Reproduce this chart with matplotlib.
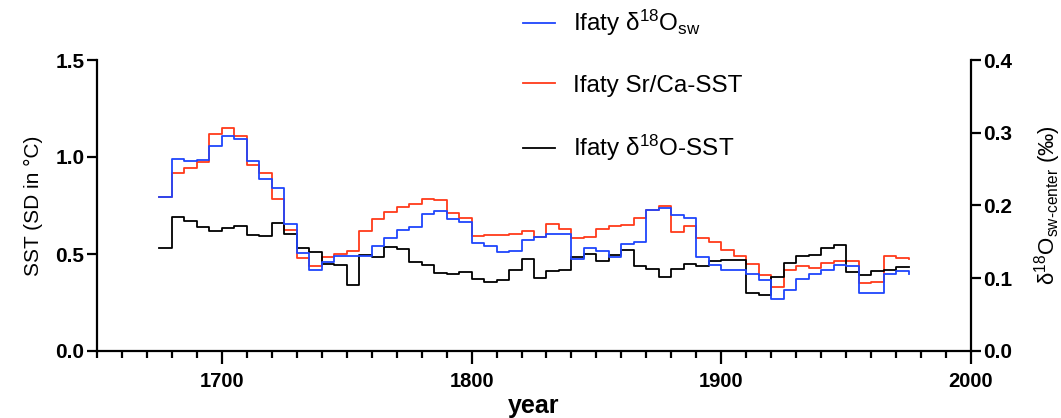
import matplotlib
matplotlib.use("Agg")
import matplotlib.pyplot as plt
from matplotlib.ticker import MultipleLocator

plt.rcParams['font.family'] = ['Liberation Sans', 'DejaVu Sans']
plt.rcParams['mathtext.fontset'] = 'custom'
plt.rcParams['mathtext.rm'] = 'Liberation Sans'
plt.rcParams['mathtext.it'] = 'Liberation Sans:italic'
plt.rcParams['mathtext.bf'] = 'Liberation Sans:bold'

# start year of each 5-yr window (last entry = end of record)
years = list(range(1675, 1976, 5))

# Ifaty Sr/Ca-SST, SD in degC (left axis)
srca_sst = [0.795, 0.915, 0.944, 0.973, 1.116, 1.152, 1.108, 0.961, 0.915, 0.783,
            0.626, 0.480, 0.439, 0.485, 0.499, 0.514, 0.619, 0.678, 0.717, 0.740,
            0.760, 0.786, 0.777, 0.709, 0.686, 0.592, 0.600, 0.597, 0.605, 0.619,
            0.588, 0.654, 0.631, 0.580, 0.588, 0.630, 0.643, 0.648, 0.683, 0.729,
            0.748, 0.614, 0.645, 0.583, 0.562, 0.519, 0.488, 0.448, 0.390, 0.330,
            0.420, 0.439, 0.430, 0.454, 0.464, 0.463, 0.351, 0.356, 0.490, 0.480,
            0.473]

# Ifaty d18O-SST, SD in degC (left axis)
d18o_sst = [0.531, 0.691, 0.671, 0.640, 0.619, 0.635, 0.645, 0.597, 0.595, 0.660,
            0.605, 0.533, 0.511, 0.447, 0.442, 0.342, 0.494, 0.485, 0.537, 0.528,
            0.459, 0.442, 0.402, 0.396, 0.408, 0.373, 0.356, 0.365, 0.416, 0.476,
            0.377, 0.414, 0.416, 0.485, 0.502, 0.463, 0.494, 0.519, 0.437, 0.425,
            0.382, 0.425, 0.447, 0.437, 0.464, 0.468, 0.468, 0.299, 0.290, 0.382,
            0.454, 0.490, 0.497, 0.531, 0.545, 0.408, 0.390, 0.411, 0.416, 0.433,
            0.433]

# Ifaty d18Osw, permil (right axis)
d18o_sw = [0.212, 0.264, 0.261, 0.262, 0.282, 0.295, 0.291, 0.261, 0.237, 0.224,
           0.174, 0.135, 0.112, 0.122, 0.131, 0.130, 0.130, 0.144, 0.155, 0.167,
           0.171, 0.189, 0.192, 0.181, 0.178, 0.148, 0.145, 0.136, 0.138, 0.153,
           0.157, 0.161, 0.161, 0.127, 0.141, 0.138, 0.129, 0.147, 0.150, 0.194,
           0.196, 0.187, 0.183, 0.129, 0.118, 0.112, 0.112, 0.106, 0.097, 0.071,
           0.084, 0.099, 0.106, 0.111, 0.118, 0.117, 0.080, 0.080, 0.106, 0.110,
           0.106]

blue = '#1f45fc'
red = '#ff3a1a'

fig = plt.figure(figsize=(10.61, 4.18), dpi=100)
ax = fig.add_axes([97/1061, 1 - 351/418, (971 - 97)/1061, (351 - 60)/418])
ax2 = ax.twinx()

l2, = ax.step(years, srca_sst, where='post', color=red, lw=1.3, label='Ifaty Sr/Ca-SST')
l3, = ax.step(years, d18o_sst, where='post', color='black', lw=1.3, label='Ifaty δ$^{18}$O-SST')
l1, = ax2.step(years, d18o_sw, where='post', color=blue, lw=1.3, label='Ifaty δ$^{18}$O$_{\\mathregular{sw}}$')

ax.set_xlim(1650, 2000)
ax.set_ylim(0, 1.5)
ax2.set_ylim(0, 0.4)
ax.xaxis.set_major_locator(MultipleLocator(100))
ax.xaxis.set_minor_locator(MultipleLocator(10))
ax.yaxis.set_major_locator(MultipleLocator(0.5))
ax2.yaxis.set_major_locator(MultipleLocator(0.1))
ax.yaxis.set_major_formatter(plt.FormatStrFormatter('%.1f'))
ax2.yaxis.set_major_formatter(plt.FormatStrFormatter('%.1f'))

for a in (ax, ax2):
    a.spines['top'].set_visible(False)
    for s in a.spines.values():
        s.set_linewidth(1.6)
ax.spines['right'].set_visible(False)
ax2.spines['left'].set_visible(False)
ax2.spines['bottom'].set_visible(False)

ax.tick_params(axis='x', which='major', length=9, width=1.6, direction='out', labelsize=14.5, pad=6)
ax.tick_params(axis='x', which='minor', length=5, width=1.6, direction='out')
ax.tick_params(axis='y', which='major', length=7, width=1.6, direction='out', labelsize=15, pad=2)
ax2.tick_params(axis='y', which='major', length=7, width=1.6, direction='out', labelsize=15, pad=2)
for lab in ax.get_xticklabels() + ax.get_yticklabels() + ax2.get_yticklabels():
    lab.set_fontweight('bold')

ax.set_xlabel('year', fontsize=18, fontweight='bold', labelpad=2)
ax.set_ylabel('SST (SD in °C)', fontsize=15, labelpad=9)
ax2.set_ylabel('δ$^{18}$O$_{\\mathregular{sw}\\text{-}\\mathregular{center}}$ (‰)', fontsize=16, labelpad=14)

fig.legend(handles=[l1, l2, l3], loc='upper left', bbox_to_anchor=(511/1061, 1.01),
           frameon=False, fontsize=17.5, labelspacing=1.5, handlelength=1.3,
           handletextpad=0.75, borderaxespad=0.1)

fig.savefig('out.png', dpi=100)
